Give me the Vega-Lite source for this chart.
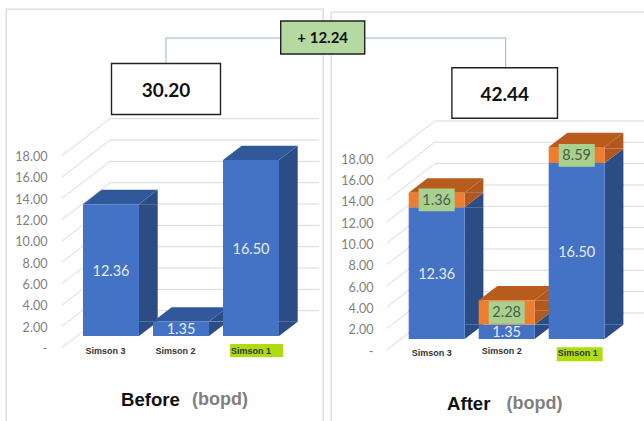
{
  "$schema": "https://vega.github.io/schema/vega-lite/v6.json",
  "padding": {"left": 5, "top": 8, "right": 0, "bottom": 0},
  "background": "white",
  "bounds": "flush",
  "center": true,
  "spacing": 8,
  "config": {"view": {"stroke": "#d9d9d9", "strokeWidth": 1.3}, "font": "Lato"},
  "datasets": {
    "before": [
      {"well": "Simson 3", "series": "Base", "value": 12.36},
      {"well": "Simson 2", "series": "Base", "value": 1.35},
      {"well": "Simson 1", "series": "Base", "value": 16.5}
    ],
    "after": [
      {"well": "Simson 3", "series": "Base", "value": 12.36},
      {"well": "Simson 2", "series": "Base", "value": 1.35},
      {"well": "Simson 1", "series": "Base", "value": 16.5},
      {"well": "Simson 3", "series": "Added", "value": 1.36},
      {"well": "Simson 2", "series": "Added", "value": 2.28},
      {"well": "Simson 1", "series": "Added", "value": 8.59}
    ],
    "ticks": [{"t": 0}, {"t": 2}, {"t": 4}, {"t": 6}, {"t": 8}, {"t": 10}, {"t": 12}, {"t": 14}, {"t": 16}, {"t": 18}]
  },
  "hconcat": [
    {
      "width": 317,
      "height": 418,
      "data": {"name": "before"},
      "transform": [{"stack": "value", "groupby": ["well"], "sort": [{"field": "series", "order": "descending"}], "as": ["y0", "y1"]}],
      "encoding": {
        "x": {
          "field": "well", "type": "nominal", "title": null, "sort": ["Simson 3", "Simson 2", "Simson 1"],
          "scale": {"domain": ["Simson 3", "Simson 2", "Simson 1"], "range": [70, 280], "paddingInner": 0.2, "paddingOuter": 0.1},
          "axis": {
            "orient": "bottom", "offset": -80.5, "domain": false, "ticks": false, "labelAngle": 0, "labelPadding": 0, "zindex": 1,
            "labelFont": "Liberation Sans", "labelFontWeight": "bold", "labelFontSize": 9, "labelColor": "#333333", "labelBaseline": "top",
            "labelOffset": {"condition": {"test": "datum.value == 'Simson 1'", "value": 0}, "value": -5.5}
          }
        }
      },
      "layer": [
        {
          "data": {"name": "ticks"},
          "mark": {"type": "point", "filled": false, "opacity": 1, "size": 4, "shape": "M-24,18.5L24,-18.5", "stroke": "#d9d9d9", "strokeWidth": 1, "xOffset": -25, "yOffset": -6.8},
          "encoding": {
            "x": {"datum": "Simson 3", "type": "nominal"},
            "y": {
              "field": "t", "type": "quantitative", "title": null,
              "scale": {"domain": [0, 18], "range": [327, 135], "clamp": true, "nice": false, "zero": false},
              "axis": {
                "values": [0, 2, 4, 6, 8, 10, 12, 14, 16, 18], "offset": -41, "domain": false, "ticks": false, "grid": false, "labelPadding": 0,
                "labelOffset": 12.5, "labelFont": "Lato", "labelFontSize": 12.6, "labelColor": "#7f7f7f",
                "labelExpr": "datum.value == 0 ? '-' : format(datum.value, '.2f')"
              }
            }
          }
        },
        {
          "data": {"name": "ticks"},
          "mark": {"type": "rule", "color": "#d9d9d9", "strokeWidth": 1, "yOffset": -25.3, "xOffset": -1, "x2Offset": 68},
          "encoding": {
            "x": {"datum": "Simson 3", "type": "nominal"},
            "x2": {"datum": "Simson 1"},
            "y": {"field": "t", "type": "quantitative"}
          }
        },
        {
          "mark": {"type": "bar", "width": 18.7, "xOffset": 37.35, "y2Offset": -14.3, "color": "#2c4c86"},
          "encoding": {"y": {"field": "y1", "type": "quantitative"}, "y2": {"field": "y0"}}
        },
        {
          "mark": {"type": "point", "filled": true, "opacity": 1, "size": 4, "shape": "M28,0L46.7,-14.3L46.7,0Z", "color": "#2c4c86"},
          "encoding": {"y": {"field": "y1", "type": "quantitative"}}
        },
        {
          "mark": {"type": "point", "filled": true, "opacity": 1, "size": 4, "shape": "M28,-14.3L46.7,-14.3L28,0Z", "color": "#2c4c86"},
          "encoding": {"y": {"field": "y0", "type": "quantitative"}}
        },
        {
          "mark": {"type": "point", "filled": true, "opacity": 1, "size": 4, "shape": "M-28,0L28,0L46.7,-14.3L-9.3,-14.3Z", "color": "#32589c"},
          "encoding": {"y": {"field": "y1", "type": "quantitative"}}
        },
        {
          "mark": {"type": "bar", "width": 56, "color": "#4472c4"},
          "encoding": {"y": {"field": "y1", "type": "quantitative"}, "y2": {"field": "y0"}}
        },
        {
          "transform": [
            {"fold": ["y0", "y1"], "as": ["edge", "edgeY"]},
            {"aggregate": [{"op": "mean", "field": "edgeY", "as": "mid"}], "groupby": ["well", "value"]}
          ],
          "mark": {"type": "text", "font": "Lato", "fontSize": 14.5, "color": "#e4ecf8", "baseline": "middle", "yOffset": 1.5},
          "encoding": {"y": {"field": "mid", "type": "quantitative"}, "text": {"field": "value", "type": "quantitative", "format": ".2f"}}
        },
        {
          "data": {"values": [{"flag": "Simson 1"}]},
          "mark": {"type": "point", "filled": true, "opacity": 1, "size": 4, "shape": "M-26.5,-6.5L26.5,-6.5L26.5,6.5L-26.5,6.5Z", "color": "#aedc0c", "xOffset": 5.5, "yOffset": 14.5},
          "encoding": {"x": {"field": "flag", "type": "nominal"}, "y": {"datum": 0, "type": "quantitative"}}
        },
        {
          "data": {"values": [{"state": "Before", "unit": "(bopd)", "total": "30.20"}]},
          "encoding": {"x": {"datum": "Simson 2", "type": "nominal"}, "y": {"datum": 0, "type": "quantitative"}},
          "layer": [
            {
              "mark": {"type": "point", "filled": false, "opacity": 1, "size": 4, "shape": "M-15,-273L-15,-298L100,-298", "stroke": "#96b4d4", "strokeWidth": 1},
              "encoding": {}
            },
            {
              "mark": {"type": "text", "font": "Liberation Sans", "fontWeight": "bold", "fontSize": 18.6, "color": "#111111", "baseline": "middle", "xOffset": -30.5, "yOffset": 64},
              "encoding": {"text": {"field": "state", "type": "nominal"}}
            },
            {
              "mark": {"type": "text", "font": "Liberation Sans", "fontWeight": "bold", "fontSize": 18, "color": "#7f7f7f", "baseline": "middle", "xOffset": 39, "yOffset": 64},
              "encoding": {"text": {"field": "unit", "type": "nominal"}}
            }
          ]
        },
        {
          "data": {"values": [{"total": "30.20"}]},
          "encoding": {"x": {"datum": "Simson 2", "type": "nominal"}, "y": {"datum": 18, "type": "quantitative"}},
          "layer": [
            {
              "mark": {"type": "point", "filled": true, "opacity": 1, "size": 4, "shape": "M-54.5,-25.5L54.5,-25.5L54.5,25.5L-54.5,25.5Z", "fill": "white", "stroke": "#222222", "strokeWidth": 1.4, "xOffset": -15, "yOffset": -55},
              "encoding": {}
            },
            {
              "mark": {"type": "text", "font": "Lato", "fontWeight": "bold", "fontSize": 19, "color": "#111111", "baseline": "middle", "xOffset": -15, "yOffset": -53.5},
              "encoding": {"text": {"field": "total", "type": "nominal"}}
            }
          ]
        }
      ]
    },
    {
      "width": 317,
      "height": 412,
      "data": {"name": "after"},
      "transform": [{"stack": "value", "groupby": ["well"], "sort": [{"field": "series", "order": "descending"}], "as": ["y0", "y1"]}],
      "encoding": {
        "x": {
          "field": "well", "type": "nominal", "title": null, "sort": ["Simson 3", "Simson 2", "Simson 1"],
          "scale": {"domain": ["Simson 3", "Simson 2", "Simson 1"], "range": [70.7, 280.7], "paddingInner": 0.2, "paddingOuter": 0.1},
          "axis": {
            "orient": "bottom", "offset": -76, "domain": false, "ticks": false, "labelAngle": 0, "zindex": 1,
            "labelFont": "Liberation Sans", "labelFontWeight": "bold", "labelFontSize": 9, "labelColor": "#333333", "labelBaseline": "top",
            "labelPadding": {"condition": {"test": "datum.value == 'Simson 2'", "value": -1.5}, "value": 0},
            "labelOffset": {"condition": {"test": "datum.value == 'Simson 1'", "value": 1}, "value": -5}
          }
        }
      },
      "layer": [
        {
          "data": {"name": "ticks"},
          "mark": {"type": "point", "filled": false, "opacity": 1, "size": 4, "shape": "M-24,18.5L24,-18.5", "stroke": "#d9d9d9", "strokeWidth": 1, "xOffset": -26, "yOffset": -7.5},
          "encoding": {
            "x": {"datum": "Simson 3", "type": "nominal"},
            "y": {
              "field": "t", "type": "quantitative", "title": null,
              "scale": {"domain": [0, 18], "range": [327, 135], "clamp": true, "nice": false, "zero": false},
              "axis": {
                "values": [0, 2, 4, 6, 8, 10, 12, 14, 16, 18], "offset": -42, "domain": false, "ticks": false, "grid": false, "labelPadding": 0,
                "labelOffset": 12.2, "labelFont": "Lato", "labelFontSize": 12.6, "labelColor": "#7f7f7f",
                "labelExpr": "datum.value == 0 ? '-' : format(datum.value, '.2f')"
              }
            }
          }
        },
        {
          "data": {"name": "ticks"},
          "mark": {"type": "rule", "color": "#d9d9d9", "strokeWidth": 1, "yOffset": -26, "xOffset": -2, "x2Offset": 70},
          "encoding": {
            "x": {"datum": "Simson 3", "type": "nominal"},
            "x2": {"datum": "Simson 1"},
            "y": {"field": "t", "type": "quantitative"}
          }
        },
        {
          "mark": {"type": "bar", "width": 18.7, "xOffset": 37.35, "y2Offset": -14.3},
          "encoding": {
            "y": {"field": "y1", "type": "quantitative"}, "y2": {"field": "y0"},
            "color": {"condition": {"test": "datum.series == 'Added'", "value": "#b0581f"}, "value": "#2c4c86"}
          }
        },
        {
          "mark": {"type": "point", "filled": true, "opacity": 1, "size": 4, "shape": "M28,0L46.7,-14.3L46.7,0Z"},
          "encoding": {
            "y": {"field": "y1", "type": "quantitative"},
            "color": {"condition": {"test": "datum.series == 'Added'", "value": "#b0581f"}, "value": "#2c4c86"}
          }
        },
        {
          "mark": {"type": "point", "filled": true, "opacity": 1, "size": 4, "shape": "M28,-14.3L46.7,-14.3L28,0Z"},
          "encoding": {
            "y": {"field": "y0", "type": "quantitative"},
            "color": {"condition": {"test": "datum.series == 'Added'", "value": "#b0581f"}, "value": "#2c4c86"}
          }
        },
        {
          "transform": [{"filter": "datum.series == 'Added'"}],
          "mark": {"type": "point", "filled": true, "opacity": 1, "size": 4, "shape": "M-28,0L28,0L46.7,-14.3L-9.3,-14.3Z", "color": "#b85c1e"},
          "encoding": {"y": {"field": "y1", "type": "quantitative"}}
        },
        {
          "mark": {"type": "bar", "width": 56},
          "encoding": {
            "y": {"field": "y1", "type": "quantitative"}, "y2": {"field": "y0"},
            "color": {"field": "series", "type": "nominal", "legend": null, "scale": {"domain": ["Base", "Added"], "range": ["#4472c4", "#ed7d31"]}}
          }
        },
        {
          "transform": [
            {"fold": ["y0", "y1"], "as": ["edge", "edgeY"]},
            {"aggregate": [{"op": "mean", "field": "edgeY", "as": "mid"}], "groupby": ["well", "series", "value"]},
            {"filter": "datum.series == 'Base'"}
          ],
          "mark": {"type": "text", "font": "Lato", "fontSize": 14.5, "color": "#e4ecf8", "baseline": "middle", "yOffset": 1.5},
          "encoding": {"y": {"field": "mid", "type": "quantitative"}, "text": {"field": "value", "type": "quantitative", "format": ".2f"}}
        },
        {
          "transform": [
            {"fold": ["y0", "y1"], "as": ["edge", "edgeY"]},
            {"aggregate": [{"op": "mean", "field": "edgeY", "as": "mid"}], "groupby": ["well", "series", "value"]},
            {"filter": "datum.series == 'Added' && datum.mid <= 18"}
          ],
          "encoding": {"y": {"field": "mid", "type": "quantitative"}},
          "layer": [
            {
              "mark": {"type": "point", "filled": true, "opacity": 1, "size": 4, "shape": "M-18,-11.3L18,-11.3L18,11.3L-18,11.3Z", "color": "#a9d18e"},
              "encoding": {}
            },
            {
              "mark": {"type": "text", "font": "Lato", "fontSize": 14.5, "color": "#4a5c4c", "baseline": "middle", "yOffset": 1},
              "encoding": {"text": {"field": "value", "type": "quantitative", "format": ".2f"}}
            }
          ]
        },
        {
          "transform": [{"filter": "datum.y1 > 18"}],
          "encoding": {"y": {"field": "y0", "type": "quantitative"}},
          "layer": [
            {
              "mark": {"type": "point", "filled": true, "opacity": 1, "size": 4, "shape": "M-18,-11.3L18,-11.3L18,11.3L-18,11.3Z", "color": "#a9d18e", "yOffset": -7.6},
              "encoding": {}
            },
            {
              "mark": {"type": "text", "font": "Lato", "fontSize": 14.5, "color": "#4a5c4c", "baseline": "middle", "yOffset": -6.6},
              "encoding": {"text": {"field": "value", "type": "quantitative", "format": ".2f"}}
            }
          ]
        },
        {
          "data": {"values": [{"flag": "Simson 1"}]},
          "mark": {"type": "point", "filled": true, "opacity": 1, "size": 4, "shape": "M-22.9,-7L22.9,-7L22.9,7L-22.9,7Z", "color": "#aedc0c", "xOffset": 3, "yOffset": 15.3},
          "encoding": {"x": {"field": "flag", "type": "nominal"}, "y": {"datum": 0, "type": "quantitative"}}
        },
        {
          "data": {"values": [{"state": "After", "unit": "(bopd)"}]},
          "encoding": {"x": {"datum": "Simson 2", "type": "nominal"}, "y": {"datum": 0, "type": "quantitative"}},
          "layer": [
            {
              "mark": {"type": "text", "font": "Liberation Sans", "fontWeight": "bold", "fontSize": 18.6, "color": "#111111", "baseline": "middle", "xOffset": -38, "yOffset": 65},
              "encoding": {"text": {"field": "state", "type": "nominal"}}
            },
            {
              "mark": {"type": "text", "font": "Liberation Sans", "fontWeight": "bold", "fontSize": 18, "color": "#7f7f7f", "baseline": "middle", "xOffset": 27.7, "yOffset": 65},
              "encoding": {"text": {"field": "unit", "type": "nominal"}}
            }
          ]
        },
        {
          "data": {"values": [{"total": "42.44", "gain": "+ 12.24"}]},
          "encoding": {"x": {"datum": "Simson 2", "type": "nominal"}, "y": {"datum": 18, "type": "quantitative"}},
          "layer": [
            {
              "mark": {"type": "point", "filled": false, "opacity": 1, "size": 4, "shape": "M-1,-29L-1,-109L-180,-109", "stroke": "#96b4d4", "strokeWidth": 1},
              "encoding": {}
            },
            {
              "mark": {"type": "point", "filled": true, "opacity": 1, "size": 4, "shape": "M-52.8,-25.2L52.8,-25.2L52.8,25.2L-52.8,25.2Z", "fill": "white", "stroke": "#222222", "strokeWidth": 1.4, "xOffset": -2, "yOffset": -54},
              "encoding": {}
            },
            {
              "mark": {"type": "text", "font": "Lato", "fontWeight": "bold", "fontSize": 19, "color": "#111111", "baseline": "middle", "xOffset": -2, "yOffset": -52.5},
              "encoding": {"text": {"field": "total", "type": "nominal"}}
            },
            {
              "mark": {"type": "point", "filled": true, "opacity": 1, "size": 4, "shape": "M-42,-16.5L42,-16.5L42,16.5L-42,16.5Z", "fill": "#b5d9a0", "stroke": "#222222", "strokeWidth": 1.4, "xOffset": -184, "yOffset": -109.5},
              "encoding": {}
            },
            {
              "mark": {"type": "text", "font": "Lato", "fontWeight": "bold", "fontSize": 15, "color": "#111111", "baseline": "middle", "xOffset": -184, "yOffset": -109},
              "encoding": {"text": {"field": "gain", "type": "nominal"}}
            }
          ]
        }
      ]
    }
  ]
}
